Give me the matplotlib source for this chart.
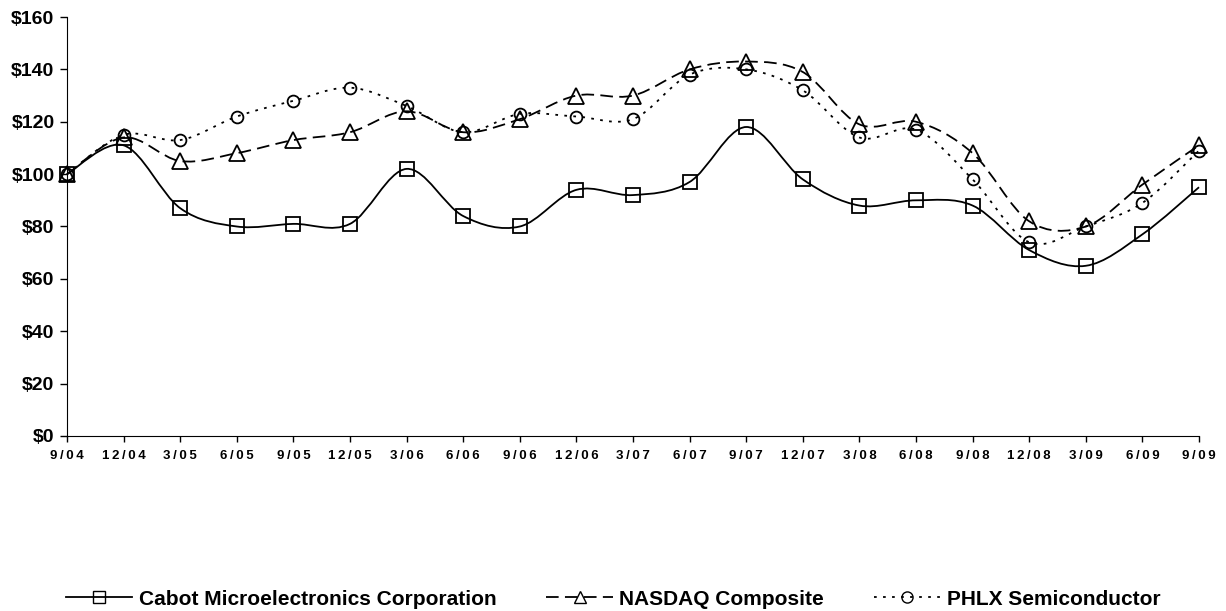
import matplotlib
matplotlib.use('Agg')
import matplotlib.pyplot as plt
from matplotlib.path import Path
from matplotlib.patches import PathPatch
from matplotlib.lines import Line2D
import numpy as np

quarters = ['9/04', '12/04', '3/05', '6/05', '9/05', '12/05', '3/06', '6/06', '9/06', '12/06',
            '3/07', '6/07', '9/07', '12/07', '3/08', '6/08', '9/08', '12/08', '3/09', '6/09', '9/09']

cabot = [100, 111, 87, 80, 81, 81, 102, 84, 80, 94, 92, 97, 118, 98, 88, 90, 88, 71, 65, 77, 95]
nasdaq = [100, 114, 105, 108, 113, 116, 124, 116, 121, 130, 130, 140, 143, 139, 119, 120, 108, 82, 80, 96, 111]
phlx = [100, 115, 113, 122, 128, 133, 126, 116, 123, 122, 121, 138, 140, 132, 114, 117, 98, 74, 80, 89, 109]

yticks = [0, 20, 40, 60, 80, 100, 120, 140, 160]

plt.rcParams['font.family'] = ['Liberation Sans', 'DejaVu Sans']


def smooth_path(xs, ys):
    # Catmull-Rom style smoothing (like Excel "smoothed line"), as cubic bezier segments
    pts = np.column_stack([xs, ys]).astype(float)
    verts = [pts[0]]
    codes = [Path.MOVETO]
    n = len(pts)
    for i in range(n - 1):
        p0 = pts[i - 1] if i > 0 else pts[i]
        p1 = pts[i]
        p2 = pts[i + 1]
        p3 = pts[i + 2] if i + 2 < n else pts[i + 1]
        c1 = p1 + (p2 - p0) / 6.0
        c2 = p2 - (p3 - p1) / 6.0
        verts += [c1, c2, p2]
        codes += [Path.CURVE4] * 3
    return Path(verts, codes)


fig = plt.figure(figsize=(12.26, 6.11), dpi=100)
ax = fig.add_axes([67 / 1226, 1 - 436 / 611, (1199 - 67) / 1226, (436 - 17) / 611])

x = np.arange(len(quarters))
series = [
    (cabot, '-', 's', 9.5, 'Cabot Microelectronics Corporation'),
    (nasdaq, (0, (7, 3.5)), '^', 11, 'NASDAQ Composite'),
    (phlx, (0, (1.5, 3.5)), 'o', 8.5, 'PHLX Semiconductor'),
]

handles = []
for vals, ls, mk, ms, name in series:
    patch = PathPatch(smooth_path(x, vals), facecolor='none', edgecolor='black',
                      linewidth=1.3, linestyle=ls, clip_on=False)
    ax.add_patch(patch)
    ax.plot(x, vals, linestyle='none', marker=mk, markersize=ms, markerfacecolor='none',
            markeredgecolor='black', markeredgewidth=1.3, clip_on=False)
    handles.append(Line2D([], [], color='black', linestyle=ls, linewidth=1.3, marker=mk,
                          markersize=8, markerfacecolor='none', markeredgewidth=1.0, label=name))

ax.set_xlim(0, 20)
ax.set_ylim(0, 160)
ax.set_yticks(yticks)
ax.set_yticklabels(['$' + str(v) for v in yticks], fontsize=14, fontweight='bold')
ax.set_xticks(x)
ax.set_xticklabels(['\u2009'.join(q) for q in quarters], fontsize=9.5, fontweight='bold')
ax.spines['top'].set_visible(False)
ax.spines['right'].set_visible(False)
ax.tick_params(axis='y', length=5, width=1, direction='out', pad=4)
ax.tick_params(axis='x', length=4, width=1, direction='out', pad=6)

fig.legend(handles=handles, loc='lower center', bbox_to_anchor=(0.5, -0.027), ncol=3,
           frameon=False, handlelength=3.2, handletextpad=0.3, columnspacing=2.4,
           prop={'weight': 'bold', 'size': 15})

fig.savefig('out.png', dpi=100)
